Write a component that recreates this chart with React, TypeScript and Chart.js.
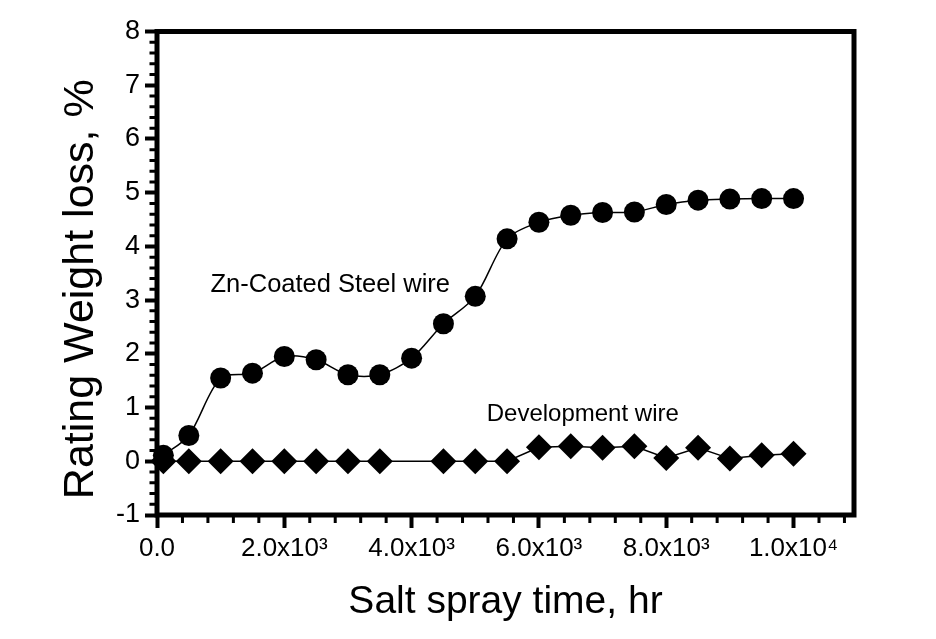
import React, { useEffect, useRef } from 'react';
import { Chart, registerables } from 'chart.js';

Chart.register(...registerables);

// ---- data ----
const zincTimes = [100, 500, 1000, 1500, 2000, 2500, 3000, 3500, 4000, 4500, 5000, 5500, 6000, 6500, 7000, 7500, 8000, 8500, 9000, 9500, 10000];
const zincLoss = [0.11, 0.48, 1.55, 1.64, 1.95, 1.89, 1.61, 1.61, 1.92, 2.56, 3.07, 4.14, 4.45, 4.58, 4.63, 4.64, 4.78, 4.86, 4.88, 4.89, 4.89];

const devTimes = [100, 500, 1000, 1500, 2000, 2500, 3000, 3500, 4500, 5000, 5500, 6000, 6500, 7000, 7500, 8000, 8500, 9000, 9500, 10000];
const devLoss = [0, 0, 0, 0, 0, 0, 0, 0, 0, 0, 0, 0.26, 0.28, 0.25, 0.28, 0.06, 0.25, 0.05, 0.11, 0.14];

const xMajorTicks = [0, 2000, 4000, 6000, 8000, 10000];
const xTickLabels = ['0.0', '2.0x10³', '4.0x10³', '6.0x10³', '8.0x10³', '1.0x10⁴'];
const yMajorTicks = [-1, 0, 1, 2, 3, 4, 5, 6, 7, 8];
const yTickLabels = ['-1', '0', '1', '2', '3', '4', '5', '6', '7', '8'];

const xTitle = 'Salt spray time, hr';
const yTitle = 'Rating Weight loss, %';
const zincLabel = 'Zn-Coated Steel wire';
const devLabel = 'Development wire';

// ---- layout / style ----
const FONT = "'Liberation Sans', Arial, Helvetica, sans-serif";
const X_MIN = 0;
const X_MAX = 10950;
const Y_MIN = -1;
const Y_MAX = 8;
const X_MINOR = 400;
const Y_MINOR = 0.2;
const FRAME_W = 5;

const labelAnchors = [
  { text: zincLabel, x: 840, y: 3.28, size: 25.5 },
  { text: devLabel, x: 5180, y: 0.87, size: 24 },
];

const framePlugin = {
  id: 'frameAndMinor',
  afterDraw(chart: any) {
    const { ctx, chartArea, scales } = chart;
    const xs = scales.x;
    const ys = scales.y;
    ctx.save();
    ctx.strokeStyle = '#000';
    // minor ticks
    ctx.lineWidth = 3;
    ctx.beginPath();
    for (let v = X_MIN; v <= X_MAX + 1e-6; v += X_MINOR) {
      if (xMajorTicks.some((m) => Math.abs(m - v) < 1e-6)) continue;
      const px = xs.getPixelForValue(v);
      ctx.moveTo(px, chartArea.bottom);
      ctx.lineTo(px, chartArea.bottom + 8);
    }
    for (let i = 0; Y_MIN + i * Y_MINOR <= Y_MAX + 1e-6; i++) {
      const v = Y_MIN + i * Y_MINOR;
      if (yMajorTicks.some((m) => Math.abs(m - v) < 1e-6)) continue;
      const py = ys.getPixelForValue(v);
      ctx.moveTo(chartArea.left, py);
      ctx.lineTo(chartArea.left - 7.5, py);
    }
    ctx.stroke();
    // frame
    ctx.lineWidth = FRAME_W;
    ctx.strokeRect(chartArea.left, chartArea.top, chartArea.right - chartArea.left, chartArea.bottom - chartArea.top);
    // annotations
    ctx.fillStyle = '#000';
    ctx.textAlign = 'left';
    ctx.textBaseline = 'middle';
    for (const a of labelAnchors) {
      ctx.font = `${a.size}px ${FONT}`;
      ctx.fillText(a.text, xs.getPixelForValue(a.x), ys.getPixelForValue(a.y));
    }
    // y-axis title
    ctx.save();
    ctx.translate(81, (chartArea.top + chartArea.bottom) / 2 + 16);
    ctx.rotate(-Math.PI / 2);
    ctx.textAlign = 'center';
    ctx.textBaseline = 'middle';
    ctx.font = `43px ${FONT}`;
    ctx.fillText(yTitle, 0, 0);
    ctx.restore();
    ctx.restore();
  },
};

export default function App() {
  const canvasRef = useRef<HTMLCanvasElement | null>(null);

  useEffect(() => {
    const canvas = canvasRef.current;
    if (!canvas) return;
    const chart = new Chart(canvas, {
      type: 'line',
      data: {
        datasets: [
          {
            label: zincLabel,
            data: zincTimes.map((t, i) => ({ x: t, y: zincLoss[i] })),
            borderColor: '#000',
            backgroundColor: '#000',
            borderWidth: 1.5,
            tension: 0.3,
            pointStyle: 'circle',
            pointRadius: 10.5,
            pointBorderWidth: 0,
            pointBackgroundColor: '#000',
            clip: false,
          },
          {
            label: devLabel,
            data: devTimes.map((t, i) => ({ x: t, y: devLoss[i] })),
            borderColor: '#000',
            backgroundColor: '#000',
            borderWidth: 1.5,
            tension: 0,
            pointStyle: 'rectRot',
            pointRadius: 13,
            pointBorderWidth: 0,
            pointBackgroundColor: '#000',
            clip: false,
          },
        ],
      },
      options: {
        responsive: false,
        animation: false,
        devicePixelRatio: 1,
        layout: { padding: { top: 31.5, right: 82, left: 0, bottom: 0 } },
        plugins: {
          legend: { display: false },
          tooltip: { enabled: false },
        },
        scales: {
          x: {
            type: 'linear',
            min: X_MIN,
            max: X_MAX,
            afterFit: (scale: any) => {
              scale.height = 124;
            },
            afterBuildTicks: (scale: any) => {
              scale.ticks = xMajorTicks.map((v) => ({ value: v }));
            },
            ticks: {
              autoSkip: false,
              maxRotation: 0,
              color: '#000',
              padding: 5,
              font: { family: FONT, size: 26 },
              callback: (value: any) => {
                const i = xMajorTicks.indexOf(Number(value));
                return i >= 0 ? xTickLabels[i] : '';
              },
            },
            grid: {
              display: true,
              drawOnChartArea: false,
              drawTicks: true,
              tickLength: 13,
              tickWidth: 4,
              tickColor: '#000',
            },
            border: { display: false },
            title: {
              display: true,
              text: xTitle,
              color: '#000',
              font: { family: FONT, size: 39 },
              padding: { top: 0, bottom: 13 },
            },
          },
          y: {
            type: 'linear',
            min: Y_MIN,
            max: Y_MAX,
            afterFit: (scale: any) => {
              scale.width = 157;
            },
            afterBuildTicks: (scale: any) => {
              scale.ticks = yMajorTicks.map((v) => ({ value: v }));
            },
            ticks: {
              autoSkip: false,
              color: '#000',
              padding: 5,
              font: { family: FONT, size: 27 },
              callback: (value: any) => {
                const i = yMajorTicks.indexOf(Number(value));
                return i >= 0 ? yTickLabels[i] : '';
              },
            },
            grid: {
              display: true,
              drawOnChartArea: false,
              drawTicks: true,
              tickLength: 12,
              tickWidth: 4,
              tickColor: '#000',
            },
            border: { display: false },
            title: { display: false },
          },
        },
      },
      plugins: [framePlugin],
    });
    return () => chart.destroy();
  }, []);

  return (
    <div style={{ position: 'absolute', left: 0, top: 0, width: 936, height: 639, background: '#fff' }}>
      <canvas ref={canvasRef} width={936} height={639} />
    </div>
  );
}
